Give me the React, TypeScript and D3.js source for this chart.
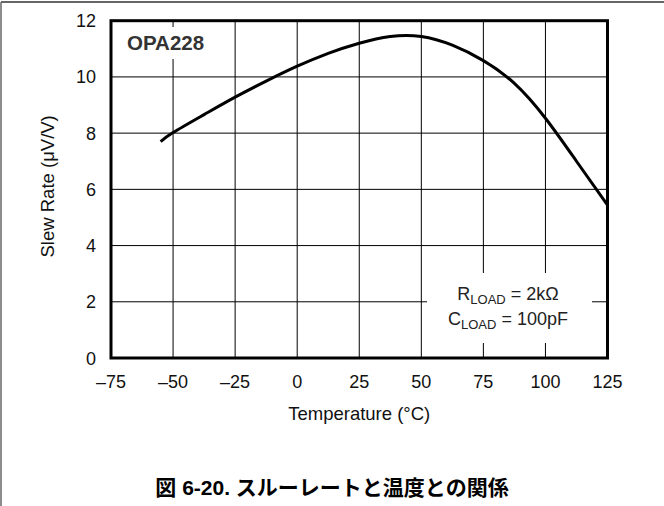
import React from "react";
import * as d3 from "d3";

// curve
const temps = [-55, -50, -37.5, -25, -12.5, 0, 12.5, 25, 37.5, 50, 62.5, 75, 87.5, 100, 112.5, 125];
const slew = [7.7, 8.02, 8.66, 9.28, 9.85, 10.38, 10.84, 11.2, 11.44, 11.44, 11.13, 10.58, 9.77, 8.53, 7.0, 5.44];

const xTicks = [-75, -50, -25, 0, 25, 50, 75, 100, 125];
const yTicks = [0, 2, 4, 6, 8, 10, 12];

const W = 664;
const H = 506;
const font = "'Liberation Sans', Arial, Helvetica, sans-serif";

export default function App() {
  const xs = d3.scaleLinear().domain([-75, 125]).range([111, 607.5]);
  const ys = d3.scaleLinear().domain([0, 12]).range([358, 20.7]);

  const pts: [number, number][] = temps.map((t, i) => [t, slew[i]]);
  const line = d3
    .line<[number, number]>()
    .x((d) => xs(d[0]))
    .y((d) => ys(d[1]))
    .curve(d3.curveNatural);

  const fmt = (v: number) => (v < 0 ? "\u2013" + Math.abs(v) : String(v));
  const [x0, x1] = xs.range();
  const [y0, y1] = ys.range();

  return (
    <svg
      width={W}
      height={H}
      style={{ position: "absolute", left: 0, top: 0, background: "#fff" }}
      fontFamily={font}
    >
      {/* outer frame: top and left only */}
      <line x1={1} y1={2} x2={W} y2={2} stroke="#333" strokeWidth={1.5} />
      <line x1={1} y1={2} x2={1} y2={H} stroke="#666" strokeWidth={1.5} />

      {/* grid */}
      {xTicks.slice(1, -1).map((t) => (
        <line key={"gx" + t} x1={xs(t)} x2={xs(t)} y1={y1} y2={y0} stroke="#000" strokeWidth={1} />
      ))}
      {yTicks.slice(1, -1).map((v) => (
        <line key={"gy" + v} x1={x0} x2={x1} y1={ys(v)} y2={ys(v)} stroke="#000" strokeWidth={1} />
      ))}

      {/* label backgrounds that cut the grid */}
      <rect x={122} y={27} width={92} height={32} fill="#fff" />
      <rect x={427} y={273} width={165} height={70} fill="#fff" />

      <text x={127} y={50} fontSize={20.5} fontWeight="bold" fill="#333">
        OPA228
      </text>
      <text x={508} y={300} fontSize={18} textAnchor="middle" fill="#222">
        R<tspan fontSize={13} dy={4}>LOAD</tspan>
        <tspan dy={-4}> = 2kΩ</tspan>
      </text>
      <text x={508} y={325} fontSize={18} textAnchor="middle" fill="#222">
        C<tspan fontSize={13} dy={4}>LOAD</tspan>
        <tspan dy={-4}> = 100pF</tspan>
      </text>

      {/* curve */}
      <path d={line(pts) || ""} fill="none" stroke="#000" strokeWidth={3} />

      {/* plot border */}
      <rect x={x0} y={y1} width={x1 - x0} height={y0 - y1} fill="none" stroke="#000" strokeWidth={3} />

      {/* y tick labels */}
      {yTicks.map((v) => (
        <text key={"yl" + v} x={96} y={ys(v) + 6.5} fontSize={18} textAnchor="end" fill="#111">
          {v}
        </text>
      ))}
      {/* x tick labels */}
      {xTicks.map((t) => (
        <text key={"xl" + t} x={xs(t)} y={387.5} fontSize={18} textAnchor="middle" fill="#111">
          {fmt(t)}
        </text>
      ))}

      <text x={(x0 + x1) / 2} y={420} fontSize={18.5} textAnchor="middle" fill="#111">
        Temperature (°C)
      </text>
      <text
        transform={`translate(53.5, ${(y0 + y1) / 2 - 3}) rotate(-90)`}
        fontSize={18.5}
        textAnchor="middle"
        fill="#111"
      >
        Slew Rate (μV/V)
      </text>

      <text
        x={332}
        y={495}
        fontSize={21}
        fontWeight="bold"
        textAnchor="middle"
        fill="#000"
        fontFamily="'Liberation Sans', 'Noto Sans CJK JP', sans-serif"
      >
        図 6-20. スルーレートと温度との関係
      </text>
    </svg>
  );
}
